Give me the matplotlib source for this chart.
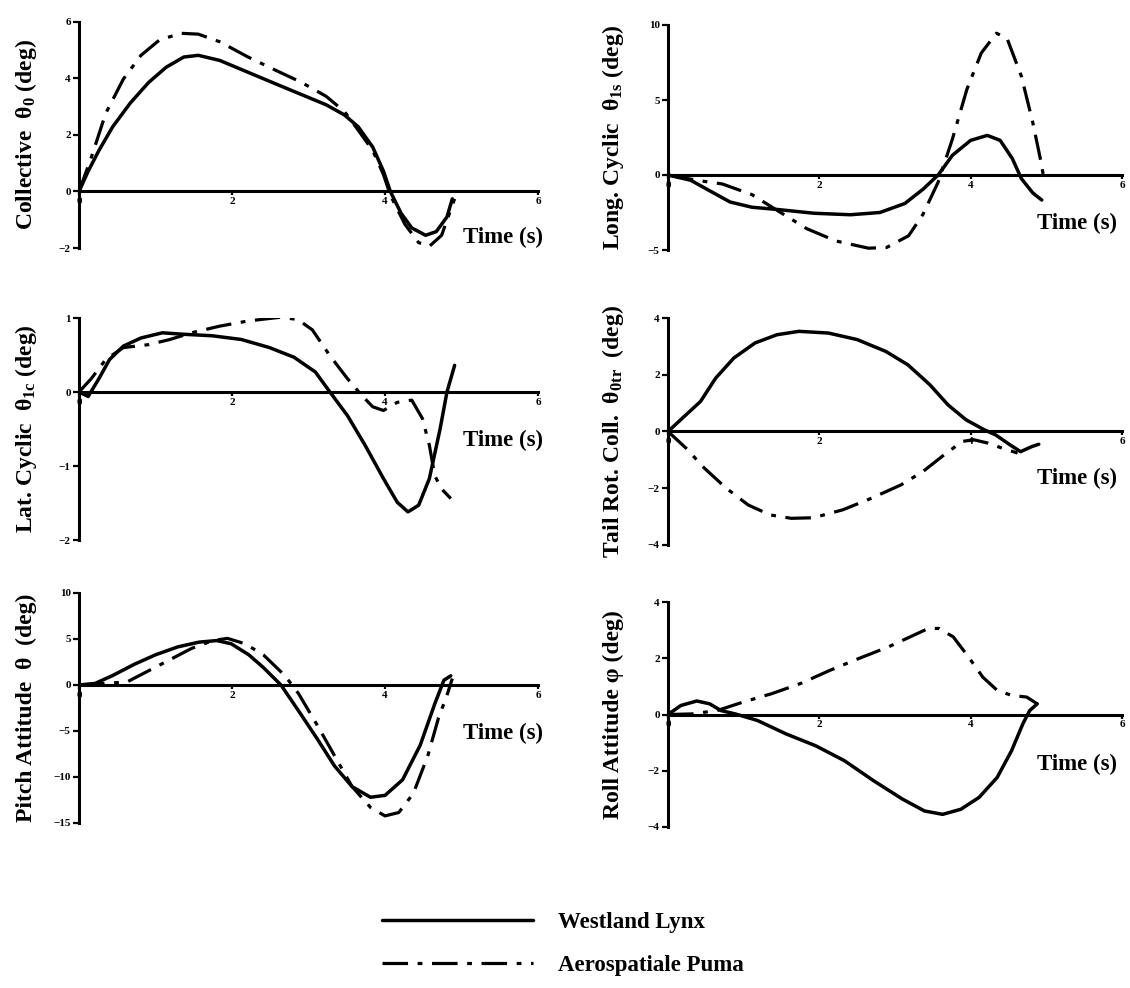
import matplotlib
matplotlib.use('Agg')
import matplotlib.pyplot as plt

plt.rcParams['font.family'] = ['Liberation Serif', 'DejaVu Serif']
plt.rcParams['font.weight'] = 'bold'
plt.rcParams['mathtext.fontset'] = 'custom'
plt.rcParams['mathtext.rm'] = 'Liberation Serif:bold'
plt.rcParams['mathtext.it'] = 'Liberation Serif:bold'
plt.rcParams['mathtext.bf'] = 'Liberation Serif:bold'

series_names = ['Westland Lynx', 'Aerospatiale Puma']
x_ticks = [0, 2, 4, 6]

# ---- Collective theta_0 ----
coll_lynx_t = [0, 0.12, 0.26, 0.44, 0.67, 0.91, 1.14, 1.37, 1.56, 1.84, 2.21, 2.58, 2.91, 3.23,
               3.47, 3.65, 3.84, 3.98, 4.07, 4.21, 4.35, 4.53, 4.67, 4.81, 4.88]
coll_lynx = [0, 0.72, 1.45, 2.29, 3.13, 3.86, 4.40, 4.76, 4.82, 4.64, 4.22, 3.80, 3.43, 3.07,
             2.71, 2.29, 1.57, 0.72, 0, -0.77, -1.29, -1.55, -1.42, -0.90, -0.26]
coll_puma_t = [0, 0.16, 0.35, 0.58, 0.81, 1.05, 1.33, 1.56, 1.84, 2.21, 2.58, 2.91, 3.23, 3.47,
               3.65, 3.84, 3.98, 4.07, 4.26, 4.44, 4.58, 4.74, 4.91]
coll_puma = [0, 1.2, 2.77, 3.98, 4.82, 5.36, 5.60, 5.57, 5.30, 4.76, 4.28, 3.86, 3.37, 2.83,
             2.17, 1.45, 0.60, -0.13, -1.16, -1.81, -1.94, -1.55, -0.26]
coll_ticks = [-2, 0, 2, 4, 6]

# ---- Longitudinal cyclic theta_1s ----
long_lynx_t = [0, 0.3, 0.55, 0.82, 1.11, 1.45, 1.93, 2.41, 2.80, 3.13, 3.37, 3.57, 3.76, 4.0,
               4.22, 4.39, 4.55, 4.67, 4.82, 4.94]
long_lynx = [0, -0.35, -1.05, -1.8, -2.15, -2.3, -2.55, -2.65, -2.5, -1.9, -0.95, 0, 1.32, 2.31,
             2.64, 2.31, 1.10, -0.24, -1.19, -1.67]
long_puma_t = [0, 0.39, 0.72, 1.11, 1.45, 1.83, 2.22, 2.65, 2.89, 3.18, 3.37, 3.57, 3.76, 3.95,
               4.14, 4.34, 4.48, 4.67, 4.82, 4.92, 4.96]
long_puma = [0, -0.36, -0.6, -1.31, -2.38, -3.57, -4.4, -4.88, -4.83, -4.05, -2.62, -0.48, 2.42,
             5.71, 8.13, 9.45, 9.12, 6.59, 3.52, 1.10, 0]
long_ticks = [-5, 0, 5, 10]

# ---- Lateral cyclic theta_1c ----
lat_lynx_t = [0, 0.12, 0.26, 0.40, 0.58, 0.81, 1.09, 1.37, 1.74, 2.12, 2.49, 2.81, 3.09, 3.28,
              3.51, 3.74, 3.98, 4.16, 4.30, 4.44, 4.58, 4.72, 4.81, 4.91]
lat_lynx = [0, -0.06, 0.18, 0.44, 0.62, 0.73, 0.80, 0.78, 0.76, 0.71, 0.60, 0.47, 0.27, 0,
            -0.32, -0.72, -1.17, -1.49, -1.62, -1.53, -1.17, -0.50, 0, 0.36]
lat_puma_t = [0, 0.16, 0.35, 0.58, 0.91, 1.19, 1.47, 1.84, 2.21, 2.63, 2.86, 3.05, 3.28, 3.51,
              3.70, 3.84, 3.98, 4.16, 4.35, 4.49, 4.58, 4.65, 4.74, 4.86]
lat_puma = [0, 0.18, 0.44, 0.60, 0.64, 0.71, 0.80, 0.89, 0.96, 1.01, 0.98, 0.84, 0.49, 0.18,
            -0.05, -0.20, -0.25, -0.14, -0.11, -0.36, -0.72, -1.13, -1.31, -1.44]
lat_ticks = [-2, -1, 0, 1]

# ---- Tail rotor collective theta_0tr ----
tail_lynx_t = [0, 0.19, 0.43, 0.63, 0.87, 1.15, 1.44, 1.73, 2.12, 2.50, 2.88, 3.17, 3.46, 3.70,
               3.94, 4.18, 4.33, 4.52, 4.66, 4.81, 4.90]
tail_lynx = [0, 0.47, 1.06, 1.88, 2.59, 3.12, 3.41, 3.53, 3.47, 3.24, 2.82, 2.35, 1.65, 0.94,
             0.41, 0.06, -0.12, -0.47, -0.71, -0.53, -0.45]
tail_puma_t = [0, 0.24, 0.48, 0.77, 1.06, 1.35, 1.63, 1.92, 2.31, 2.69, 3.08, 3.37, 3.65, 3.89,
               4.04, 4.23, 4.42, 4.62]
tail_puma = [0, -0.59, -1.29, -2.0, -2.59, -2.94, -3.06, -3.04, -2.76, -2.35, -1.88, -1.41,
             -0.82, -0.35, -0.29, -0.41, -0.59, -0.76]
tail_ticks = [-4, -2, 0, 2, 4]

# ---- Pitch attitude theta ----
pitch_lynx_t = [0, 0.21, 0.44, 0.72, 1.0, 1.29, 1.57, 1.80, 1.99, 2.22, 2.41, 2.64, 2.87, 3.11,
                3.34, 3.57, 3.81, 4.0, 4.23, 4.46, 4.65, 4.77, 4.86]
pitch_lynx = [0, 0.17, 1.03, 2.24, 3.28, 4.14, 4.66, 4.83, 4.48, 3.28, 1.9, 0, -2.81, -5.8,
              -8.8, -11.05, -12.2, -12.0, -10.3, -6.55, -2.06, 0.52, 1.0]
pitch_puma_t = [0, 0.35, 0.63, 0.91, 1.19, 1.47, 1.75, 1.94, 2.17, 2.41, 2.69, 2.87, 3.11, 3.34,
                3.57, 3.81, 4.0, 4.18, 4.37, 4.56, 4.70, 4.81, 4.88]
pitch_puma = [0, 0.17, 0.34, 1.55, 2.76, 3.97, 4.83, 5.07, 4.48, 3.28, 1.03, -0.94, -4.31,
              -7.68, -11.05, -13.3, -14.23, -13.86, -11.8, -7.68, -3.56, -1.12, 0.7]
pitch_ticks = [-15, -10, -5, 0, 5, 10]

# ---- Roll attitude phi ----
roll_lynx_t = [0, 0.17, 0.38, 0.55, 0.70, 0.89, 1.18, 1.56, 1.95, 2.33, 2.72, 3.10, 3.39, 3.63,
               3.87, 4.11, 4.35, 4.54, 4.69, 4.78, 4.88]
roll_lynx = [0, 0.32, 0.48, 0.38, 0.14, 0.02, -0.21, -0.69, -1.11, -1.64, -2.36, -3.01, -3.43,
             -3.55, -3.37, -2.95, -2.24, -1.29, -0.33, 0.14, 0.38]
roll_puma_t = [0, 0.31, 0.65, 0.99, 1.37, 1.75, 2.14, 2.52, 2.91, 3.20, 3.44, 3.58, 3.77, 3.97,
               4.16, 4.35, 4.54, 4.74, 4.88]
roll_puma = [0, 0.02, 0.14, 0.44, 0.74, 1.10, 1.57, 1.99, 2.40, 2.76, 3.06, 3.06, 2.76, 2.05,
             1.33, 0.86, 0.68, 0.62, 0.38]
roll_ticks = [-4, -2, 0, 2, 4]

W, H = 1130, 988
fig = plt.figure(figsize=(W / 100, H / 100), dpi=100)

dashdot = (0, (8, 3, 1.5, 3))

panels = [
    dict(box=(79, 22, 538, 248), ylim=(-2, 6), ticks=coll_ticks,
         label='Collective  θ$_{0}$ (deg)', lx=26, tl=(1.01, 0.045),
         lynx=(coll_lynx_t, coll_lynx), puma=(coll_puma_t, coll_puma)),
    dict(box=(668, 25, 1122, 250), ylim=(-5, 10), ticks=long_ticks,
         label='Long. Cyclic  θ$_{1s}$ (deg)', lx=613, tl=(0.99, 0.12),
         lynx=(long_lynx_t, long_lynx), puma=(long_puma_t, long_puma)),
    dict(box=(79, 318, 538, 540), ylim=(-2, 1), ticks=lat_ticks,
         label='Lat. Cyclic  θ$_{1c}$ (deg)', lx=26, tl=(1.01, 0.45),
         lynx=(lat_lynx_t, lat_lynx), puma=(lat_puma_t, lat_puma)),
    dict(box=(668, 318, 1122, 545), ylim=(-4, 4), ticks=tail_ticks,
         label='Tail Rot. Coll.  θ$_{0tr}$  (deg)', lx=613, tl=(0.99, 0.295),
         lynx=(tail_lynx_t, tail_lynx), puma=(tail_puma_t, tail_puma)),
    dict(box=(79, 593, 538, 823), ylim=(-15, 10), ticks=pitch_ticks,
         label='Pitch Attitude  θ  (deg)', lx=26, tl=(1.01, 0.39),
         lynx=(pitch_lynx_t, pitch_lynx), puma=(pitch_puma_t, pitch_puma)),
    dict(box=(668, 602, 1122, 827), ylim=(-4, 4), ticks=roll_ticks,
         label='Roll Attitude φ (deg)', lx=613, tl=(0.99, 0.276),
         lynx=(roll_lynx_t, roll_lynx), puma=(roll_puma_t, roll_puma)),
]

handles = None
for p in panels:
    x0, y0, x1, y1 = p['box']
    ax = fig.add_axes([x0 / W, 1 - y1 / H, (x1 - x0) / W, (y1 - y0) / H])
    ax.patch.set_alpha(0)
    l1, = ax.plot(*p['lynx'], color='black', lw=2.5, solid_capstyle='round',
                  solid_joinstyle='round', label=series_names[0])
    l2, = ax.plot(*p['puma'], color='black', lw=2.3, linestyle=dashdot,
                  label=series_names[1])
    if handles is None:
        handles = [l1, l2]
    ax.set_xlim(0, 6)
    ax.set_ylim(*p['ylim'])
    ax.set_xticks(x_ticks)
    ax.set_yticks(p['ticks'])
    for s in ['top', 'right']:
        ax.spines[s].set_visible(False)
    ax.spines['bottom'].set_position(('data', 0))
    ax.spines['left'].set_linewidth(2.2)
    ax.spines['bottom'].set_linewidth(2.2)
    ax.tick_params(axis='y', direction='out', length=4, width=1.6, labelsize=8, pad=2)
    ax.tick_params(axis='x', direction='out', length=3, width=1.6, labelsize=8, pad=1)
    for lab in ax.get_xticklabels() + ax.get_yticklabels():
        lab.set_fontweight('bold')
    ax.text(p['tl'][0], p['tl'][1], 'Time (s)', transform=ax.transAxes, ha='right',
            va='center', fontsize=16.5, fontweight='bold')
    fig.text(p['lx'] / W, 1 - ((y0 + y1) / 2) / H, p['label'], rotation=90,
             ha='center', va='center', fontsize=17, fontweight='bold')

fig.legend(handles, series_names, loc='upper left', bbox_to_anchor=(382 / W, 1 - 912 / H),
           frameon=False, fontsize=16.5, handlelength=6.6, handletextpad=1.1,
           labelspacing=0.95, borderpad=0, borderaxespad=0)

fig.savefig('out.png', dpi=100)
